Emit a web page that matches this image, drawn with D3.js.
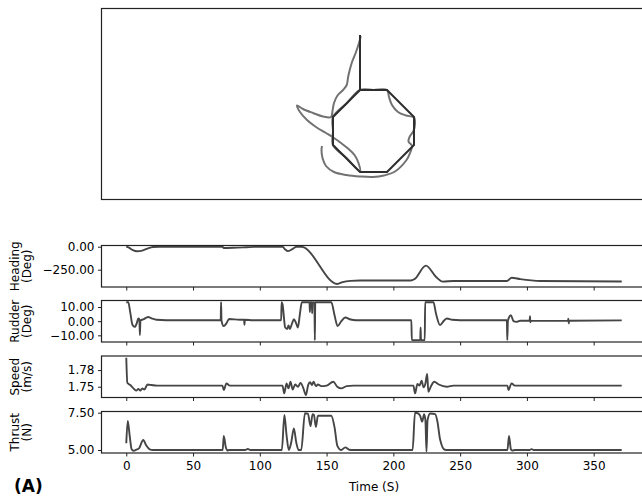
<!DOCTYPE html>
<html>
<head>
<meta charset="utf-8">
<script src="https://cdn.jsdelivr.net/npm/d3@7"></script>
<style>
  body { margin: 0; background: #fff; }
  text { font-family: "DejaVu Sans", sans-serif; fill: #000; }
</style>
</head>
<body>
<svg id="chart" width="642" height="498"></svg>
<script>
// ---- data ----

// planned path: waypoints (m, east / north from the octagon centre)
const waypointEast  = [-13.5, -13.5, 13.5, 40.5, 40.5, 13.5, -13.5, -40.5, -40.5, -13.5];
const waypointNorth = [96, 41, 41, 14, -14, -41, -41, -14, 14, 41];

// travelled path (m)
const pathEast = [-12.8, -14.2, -17.5, -21.8, -25.2, -26.8, -30.5, -36, -39.5, -41, -42.5,
  -50.5, -60.5, -70.5, -76.5,
  -73.5, -66.5, -57.5, -47.5, -39.5,
  -32.5, -25.5, -19, -15, -13.5,
  -27, -40.5, -40.5, -40.5, -27, -13.5,
  0, 13.5,
  15.5, 18.5, 24.5, 32.5, 40.5,
  41.5, 40, 36, 35, 38.5,
  36.5, 33, 21.5, 10.5, -0.5, -13.5, -27, -39.5, -47.5, -51, -52, -51.5];
const pathNorth = [95, 89, 79, 68, 55, 46, 41, 35.5, 28, 20, 14,
  14.5, 18, 22, 25.5,
  19, 11, 4, -2, -7,
  -12, -17.5, -24, -32, -40.5,
  -27, -14, 0, 14, 27.5, 41,
  41, 41,
  34, 26, 19, 15.5, 13.5,
  7, 0, -6, -10.5, -15,
  -22, -29, -40.5, -44.5, -46, -45.5, -44, -41, -35, -27, -19, -15];

// time series
const timeTicks = [0, 50, 100, 150, 200, 250, 300, 350];

const headingT = [0, 2, 5, 8, 12, 16, 20, 25, 72, 73, 80, 90, 96, 117, 119, 121, 124, 127.5, 131,
  158, 162, 168, 175, 213, 216, 224.4, 232, 237, 245, 285, 288.6, 295, 310, 371];
const headingV = [0, -10, -38, -50, -42, -20, -4, 0, 0, -14, -12, -6, -2, 0, -30, -48, -30, 0, 0,
  -405, -385, -372, -368, -368, -350, -206, -330, -380, -372, -372, -337, -352, -372, -378];
const headingTicks = [-250, 0];

const rudderT = [0, 1.5, 3, 4.6, 6.4, 8, 9, 9.8, 10.2, 10.6, 12.6, 16.4, 19, 22.6, 30,
  70.7, 71, 71.3, 73, 75, 77, 85, 88.2, 88.5, 88.8, 95,
  116, 116.3, 117, 119, 120.5, 121.5, 122.5, 124, 125.5, 127, 128.5, 130, 131.5,
  137.2, 137.5, 137.8, 138.9, 139.2, 139.5, 140.9, 141.2, 141.5, 153.5, 156, 158.2, 161, 164, 168, 172,
  213.5, 213.8, 220.1, 220.4, 220.7, 223.5, 223.8, 230, 232, 235, 238, 240, 244, 250,
  285, 285.3, 285.8, 288, 290, 292, 295, 302, 302.3, 302.6, 303,
  330.8, 331, 331.3, 331.6, 371];
const rudderV = [13.4, 13.4, 6, -2.5, -4, -1, 1.9, 1.5, -9.8, 0.5, 1.2, 3, 2, 1, 0.7,
  0.7, 13.4, 0.5, -3.5, -1.5, 1.5, 1, 1, -2.5, 1, 0.7,
  0.7, 13.4, 12, -4.5, -5.5, -3, -5.5, -2, 1.4, -1, -4.5, 5, 13.4,
  13.4, 6.5, 13.4, 13.4, 5.5, 13.4, 13.4, -13.4, 13.4, 13.4, 4, -3.5, 0, 2.6, 1.2, 0.7,
  0.7, -13.4, -13.4, -4.4, -13.4, -13.4, 13.4, 13.4, 5, -2.8, 0.5, 1.9, 1, 0.7,
  0.7, -13.4, 0.5, 4.2, 0, -0.5, 0.3, 0.3, 3.5, -0.8, 0.2,
  0.2, 1.8, -1.6, 0.3, 0.6];
const rudderTicks = [-10, 0, 10];

const speedT = [0, 0.8, 3, 5, 7.5, 9, 10.5, 12, 13.5, 16, 19, 23, 72, 73, 75, 77.5,
  117, 118.3, 120, 121.5, 123, 124.6, 126.5, 128.5, 130.5, 132.5, 134.5, 136.2, 137.7, 139, 140.3,
  142, 143.5, 146, 150, 155, 158, 161, 165, 170,
  215, 216.3, 218, 219.5, 221.2, 222.5, 224, 225.3, 226.2, 228, 230.6, 234, 240, 245,
  285.4, 286.2, 288.5, 291, 371];
const speedV = [1.802, 1.757, 1.753, 1.748, 1.743, 1.746, 1.743, 1.747, 1.745, 1.754, 1.753, 1.752,
  1.752, 1.744, 1.756, 1.752,
  1.752, 1.738, 1.756, 1.747, 1.759, 1.745, 1.754, 1.75, 1.757, 1.748, 1.735, 1.753, 1.758, 1.753, 1.759,
  1.751, 1.754, 1.751, 1.752, 1.759, 1.75, 1.747, 1.751, 1.752,
  1.752, 1.738, 1.755, 1.752, 1.761, 1.749, 1.756, 1.773, 1.741, 1.75, 1.759, 1.754, 1.75, 1.752,
  1.752, 1.744, 1.756, 1.752, 1.752];
const speedTicks = [1.75, 1.78];

const thrustT = [0, 1.1, 2.5, 4, 5.5, 7.5, 9.5, 12.7, 15, 17.5, 20, 72.2, 73, 74.5, 75.6, 77, 89, 91, 93,
  116.5, 118.4, 120, 121.7, 123.5, 125.5, 127.3, 129, 131, 133.8, 136, 138, 139.5, 140.5, 142, 143.5,
  153.5, 156, 158, 161, 164, 167, 170,
  214.4, 216.2, 218.5, 220, 221.6, 223, 224, 224.8, 225.6, 227.6, 231.3, 233, 235, 238.5, 241,
  285.4, 286.6, 288, 289, 291, 302, 303.5, 305, 371];
const thrustV = [5.45, 6.95, 6.0, 5.05, 4.95, 5.02, 5.11, 5.67, 5.3, 5.05, 5.0, 5.0, 5.94, 5.2, 4.97, 5.0, 5.0, 5.07, 5.0,
  5.0, 7.35, 6.0, 5.0, 5.5, 6.45, 5.5, 5.0, 5.0, 7.46, 7.44, 6.6, 7.4, 7.35, 6.55, 7.3,
  7.3, 6.5, 5.3, 5.0, 5.18, 5.02, 5.0,
  5.0, 7.5, 7.45, 7.3, 6.9, 7.4, 7.0, 4.89, 7.0, 7.45, 7.4, 6.9, 5.7, 5.02, 5.0,
  5.0, 5.94, 5.05, 4.97, 5.0, 5.0, 5.06, 5.0, 5.0];
const thrustTicks = [5.0, 7.5];

// ---- layout ----
const svg = d3.select("#chart");
const left = 101.5, right = 646.5;
const lineColor = "#454545";
const fmt2 = d => d3.format(".2f")(d);

// trajectory panel
const mapTop = 8.5, mapBottom = 199.5;
const ex = d3.scaleLinear().domain([-272, 273]).range([left, right]);
const ny = d3.scaleLinear().domain([-68.5, 122.5]).range([mapBottom, mapTop]);

const travelled = pathEast.map((e, i) => [e, pathNorth[i]]);
const planned = waypointEast.map((e, i) => [e, waypointNorth[i]]);

svg.append("path")
  .attr("d", d3.line().x(d => ex(d[0])).y(d => ny(d[1])).curve(d3.curveCatmullRom.alpha(0.5))(travelled))
  .attr("fill", "none").attr("stroke", "#727272").attr("stroke-width", 2)
  .attr("stroke-linejoin", "round");
svg.append("path")
  .attr("d", d3.line().x(d => ex(d[0])).y(d => ny(d[1]))(planned))
  .attr("fill", "none").attr("stroke", "#2e2e2e").attr("stroke-width", 2)
  .attr("stroke-linejoin", "round");
svg.append("rect")
  .attr("x", left).attr("y", mapTop)
  .attr("width", right - left).attr("height", mapBottom - mapTop)
  .attr("fill", "none").attr("stroke", "#222").attr("stroke-width", 1.2);

// time-series panels
const x = d3.scaleLinear().domain([-18.55, 389.55]).range([left, right]);
const panelH = 41.5;
const panels = [
  { label: "Heading", unit: "(Deg)", t: headingT, v: headingV, ticks: headingTicks, top: 245.5, domain: [-438, 13] },
  { label: "Rudder", unit: "(Deg)", t: rudderT, v: rudderV, ticks: rudderTicks, top: 300.5, domain: [-14.7, 14.6] },
  { label: "Speed", unit: "(m/s)", t: speedT, v: speedV, ticks: speedTicks, top: 356, domain: [1.7306, 1.8053] },
  { label: "Thrust", unit: "(N)", t: thrustT, v: thrustV, ticks: thrustTicks, top: 411.5, domain: [4.80, 7.58] }
];

panels.forEach((p, k) => {
  const bottom = p.top + panelH;
  const y = d3.scaleLinear().domain(p.domain).range([bottom, p.top]);
  const pts = p.t.map((t, i) => [t, p.v[i]]);

  const clipId = "clip" + k;
  svg.append("clipPath").attr("id", clipId)
    .append("rect").attr("x", left).attr("y", p.top).attr("width", right - left).attr("height", panelH);

  svg.append("path")
    .attr("clip-path", "url(#" + clipId + ")")
    .attr("d", d3.line().x(d => x(d[0])).y(d => y(d[1])).curve(d3.curveMonotoneX)(pts))
    .attr("fill", "none").attr("stroke", lineColor).attr("stroke-width", 1.9)
    .attr("stroke-linejoin", "round");

  svg.append("rect")
    .attr("x", left).attr("y", p.top).attr("width", right - left).attr("height", panelH)
    .attr("fill", "none").attr("stroke", "#222").attr("stroke-width", 1.2);

  // y axis
  const ya = svg.append("g").attr("transform", "translate(" + left + ",0)")
    .call(d3.axisLeft(y).tickValues(p.ticks).tickSize(3.5).tickPadding(3.5).tickFormat(fmt2));
  ya.select(".domain").remove();
  ya.selectAll("text").attr("font-size", 12).attr("font-family", "DejaVu Sans");
  ya.selectAll("line").attr("stroke", "#222");

  // x axis
  const last = k === panels.length - 1;
  const xa = svg.append("g").attr("transform", "translate(0," + bottom + ")")
    .call(d3.axisBottom(x).tickValues(timeTicks).tickSize(3.5).tickPadding(5)
      .tickFormat(last ? d3.format("d") : ""));
  xa.select(".domain").remove();
  xa.selectAll("text").attr("font-size", 12).attr("font-family", "DejaVu Sans");
  xa.selectAll("line").attr("stroke", "#222");

  // y label (two lines)
  const cy = p.top + panelH / 2;
  svg.append("text").attr("transform", "translate(19," + cy + ") rotate(-90)")
    .attr("text-anchor", "middle").attr("font-size", 12).text(p.label);
  svg.append("text").attr("transform", "translate(31," + cy + ") rotate(-90)")
    .attr("text-anchor", "middle").attr("font-size", 12).text(p.unit);
});

svg.append("text").attr("x", (left + right) / 2).attr("y", 491)
  .attr("text-anchor", "middle").attr("font-size", 12).text("Time (S)");

svg.append("text").attr("x", 14).attr("y", 492)
  .attr("font-size", 17).attr("font-weight", "bold").text("(A)");
</script>
</body>
</html>
